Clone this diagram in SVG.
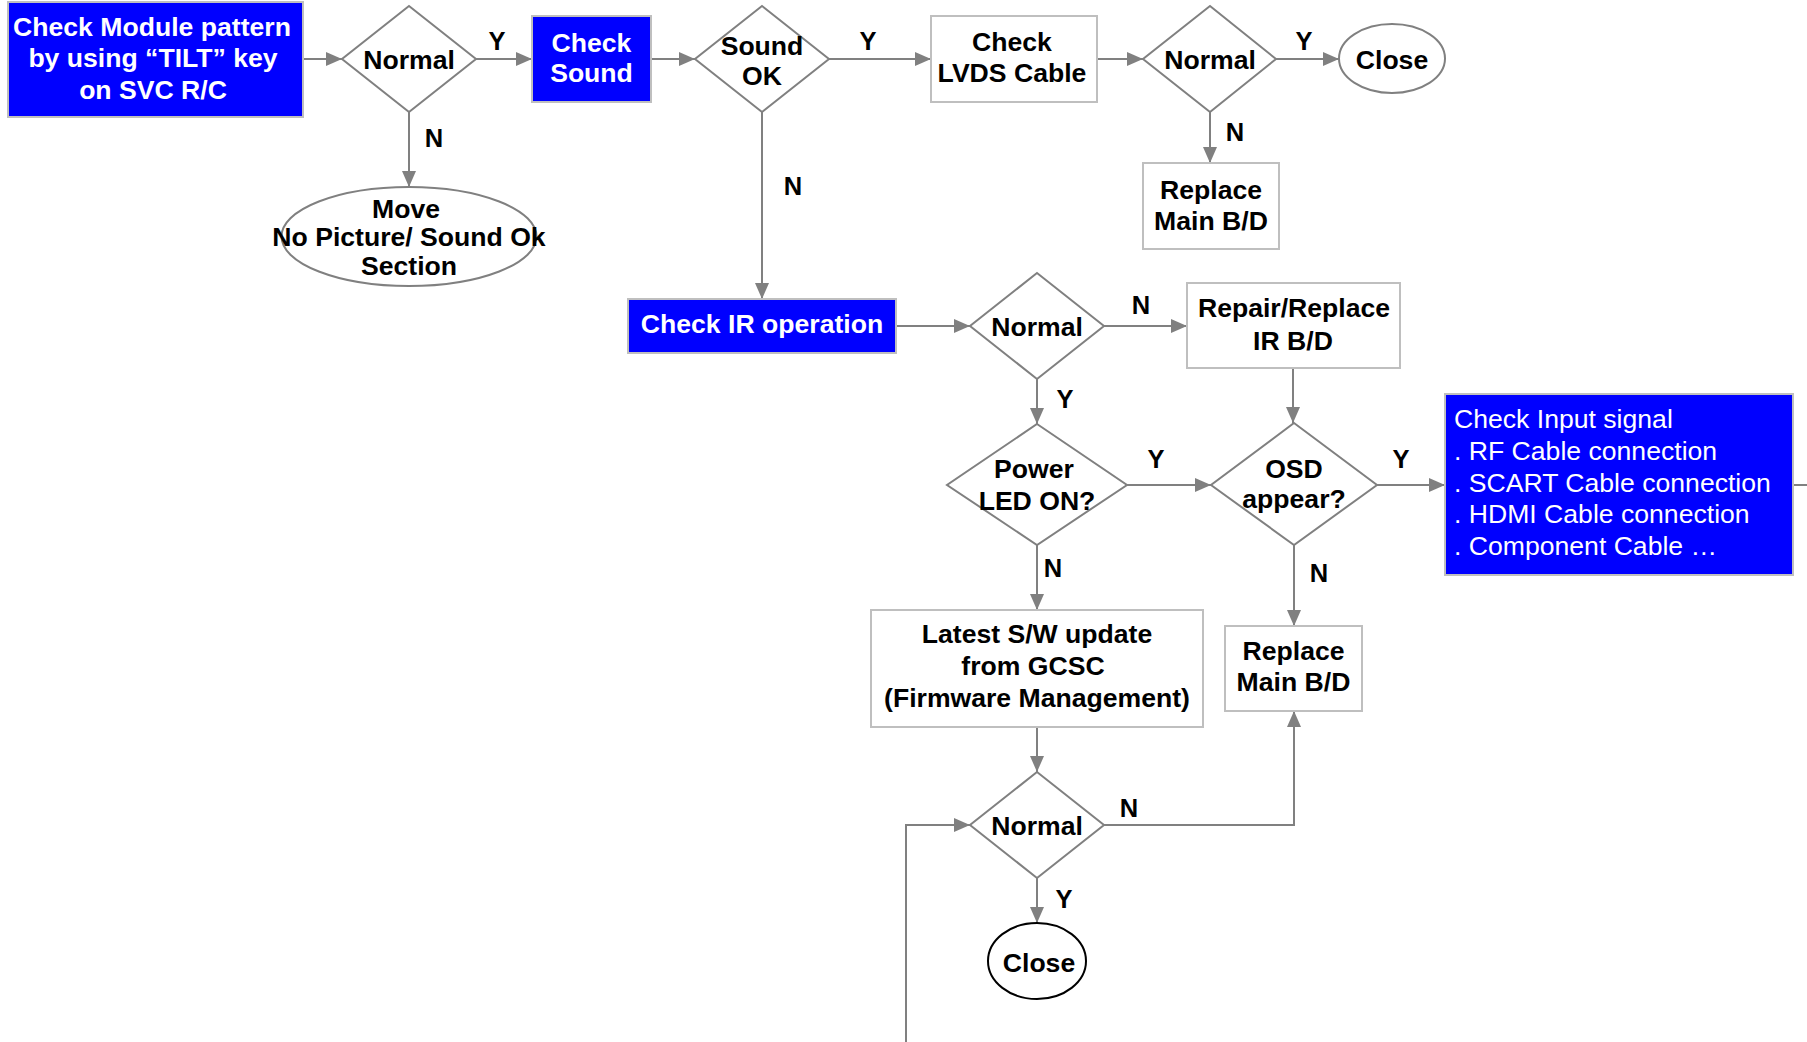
<svg xmlns="http://www.w3.org/2000/svg" width="1807" height="1042" viewBox="0 0 1807 1042">
<style>
.t{font-family:"Liberation Sans",Arial,sans-serif;font-weight:bold;font-size:26.6px;text-anchor:middle;fill:#000}
.w{fill:#fff}
.r{font-family:"Liberation Sans",Arial,sans-serif;font-size:26.6px;fill:#fff}
.lb{font-family:"Liberation Sans",Arial,sans-serif;font-weight:bold;font-size:25.5px;text-anchor:middle;fill:#000}
.box{fill:#fff;stroke:#bfbfbf;stroke-width:2}
.bbox{fill:#0000ff;stroke:#bfbfbf;stroke-width:2}
.dia{fill:#fff;stroke:#808080;stroke-width:2}
.ell{fill:#fff;stroke:#808080;stroke-width:2}
.c{fill:none;stroke:#808080;stroke-width:2}
.a{marker-end:url(#arr)}
</style>
<defs>
<marker id="arr" markerUnits="userSpaceOnUse" markerWidth="16" markerHeight="14" refX="16" refY="7" orient="auto">
<path d="M0,0 L16,7 L0,14 z" fill="#808080"/>
</marker>
</defs>
<rect width="1807" height="1042" fill="#fff"/>
<g id="connectors">
<path class="c a" d="M303,59 H342"/>
<path class="c a" d="M476,59 H532"/>
<path class="c a" d="M409,112 V187"/>
<path class="c a" d="M651,59 H695"/>
<path class="c a" d="M829,59 H931"/>
<path class="c a" d="M762,112 V299"/>
<path class="c a" d="M1097,59 H1143"/>
<path class="c a" d="M1276,59 H1339"/>
<path class="c a" d="M1210,112 V163"/>
<path class="c a" d="M896,326 H970"/>
<path class="c a" d="M1104,326 H1187"/>
<path class="c a" d="M1037,379 V424"/>
<path class="c a" d="M1293,368 V423"/>
<path class="c a" d="M1127,485 H1211"/>
<path class="c a" d="M1377,485 H1445"/>
<path class="c a" d="M1037,545 V610"/>
<path class="c a" d="M1294,545 V626"/>
<path class="c a" d="M1037,727 V772"/>
<path class="c a" d="M1104,825 H1294 V711"/>
<path class="c a" d="M1037,878 V923"/>
<path class="c a" d="M906,1042 V825 H970"/>
<path class="c" d="M1793,485 H1807"/>
<text class="lb" x="497" y="50">Y</text>
<text class="lb" x="434" y="147">N</text>
<text class="lb" x="868" y="50">Y</text>
<text class="lb" x="793" y="195">N</text>
<text class="lb" x="1304" y="50">Y</text>
<text class="lb" x="1235" y="141">N</text>
<text class="lb" x="1141" y="314">N</text>
<text class="lb" x="1065" y="408">Y</text>
<text class="lb" x="1156" y="468">Y</text>
<text class="lb" x="1401" y="468">Y</text>
<text class="lb" x="1053" y="577">N</text>
<text class="lb" x="1319" y="582">N</text>
<text class="lb" x="1129" y="817">N</text>
<text class="lb" x="1064" y="908">Y</text>
</g>
<g id="n-check-module">
<rect class="bbox" x="8" y="2" width="295" height="115"/>
<text class="t w" x="152" y="36">Check Module pattern</text>
<text class="t w" x="153" y="67">by using “TILT” key</text>
<text class="t w" x="153" y="99">on SVC R/C</text>
</g>
<g id="n-normal1">
<polygon class="dia" points="409,6 476,59 409,112 342,59"/>
<text class="t" x="409" y="69">Normal</text>
</g>
<g id="n-move">
<ellipse class="ell" cx="409" cy="236.5" rx="127.5" ry="49.5"/>
<text class="t" x="406" y="218">Move</text>
<text class="t" x="409" y="246">No Picture/ Sound Ok</text>
<text class="t" x="409" y="275">Section</text>
</g>
<g id="n-check-sound">
<rect class="bbox" x="532" y="16" width="119" height="86"/>
<text class="t w" x="591.5" y="52">Check</text>
<text class="t w" x="591.5" y="82">Sound</text>
</g>
<g id="n-sound-ok">
<polygon class="dia" points="762,6 829,59 762,112 695,59"/>
<text class="t" x="762" y="55">Sound</text>
<text class="t" x="762" y="85">OK</text>
</g>
<g id="n-lvds">
<rect class="box" x="931" y="16" width="166" height="86"/>
<text class="t" x="1012" y="51">Check</text>
<text class="t" x="1012" y="82">LVDS Cable</text>
</g>
<g id="n-normal2">
<polygon class="dia" points="1210,6 1276,59 1210,112 1143,59"/>
<text class="t" x="1210" y="69">Normal</text>
</g>
<g id="n-close1">
<ellipse class="ell" cx="1392" cy="58.5" rx="53" ry="34.5"/>
<text class="t" x="1392" y="69">Close</text>
</g>
<g id="n-replace1">
<rect class="box" x="1143" y="163" width="136" height="86"/>
<text class="t" x="1211" y="199">Replace</text>
<text class="t" x="1211" y="230">Main B/D</text>
</g>
<g id="n-check-ir">
<rect class="bbox" x="628" y="299" width="268" height="54"/>
<text class="t w" x="762" y="333">Check IR operation</text>
</g>
<g id="n-normal3">
<polygon class="dia" points="1037,273 1104,326 1037,379 970,326"/>
<text class="t" x="1037" y="336">Normal</text>
</g>
<g id="n-repair-ir">
<rect class="box" x="1187" y="283" width="213" height="85"/>
<text class="t" x="1294" y="317">Repair/Replace</text>
<text class="t" x="1293" y="350">IR B/D</text>
</g>
<g id="n-power-led">
<polygon class="dia" points="1037,424 1127,485 1037,545 947,485"/>
<text class="t" x="1034" y="478">Power</text>
<text class="t" x="1037" y="510">LED ON?</text>
</g>
<g id="n-osd">
<polygon class="dia" points="1294,423 1377,485 1294,545 1211,485"/>
<text class="t" x="1294" y="478">OSD</text>
<text class="t" x="1294" y="508">appear?</text>
</g>
<g id="n-input-signal">
<rect class="bbox" x="1445" y="394" width="348" height="181"/>
<text class="r" x="1454" y="428">Check Input signal</text>
<text class="r" x="1454" y="460">. RF Cable connection</text>
<text class="r" x="1454" y="492">. SCART Cable connection</text>
<text class="r" x="1454" y="523">. HDMI Cable connection</text>
<text class="r" x="1454" y="555">. Component Cable …</text>
</g>
<g id="n-latest-sw">
<rect class="box" x="871" y="610" width="332" height="117"/>
<text class="t" x="1037" y="643">Latest S/W update</text>
<text class="t" x="1033" y="675">from GCSC</text>
<text class="t" x="1037" y="707">(Firmware Management)</text>
</g>
<g id="n-replace2">
<rect class="box" x="1225" y="626" width="137" height="85"/>
<text class="t" x="1293.5" y="660">Replace</text>
<text class="t" x="1293.5" y="691">Main B/D</text>
</g>
<g id="n-normal4">
<polygon class="dia" points="1037,772 1104,825 1037,878 970,825"/>
<text class="t" x="1037" y="835">Normal</text>
</g>
<g id="n-close2">
<ellipse cx="1037" cy="961" rx="49" ry="38" fill="#fff" stroke="#000" stroke-width="2"/>
<text class="t" x="1039" y="972">Close</text>
</g>
</svg>
